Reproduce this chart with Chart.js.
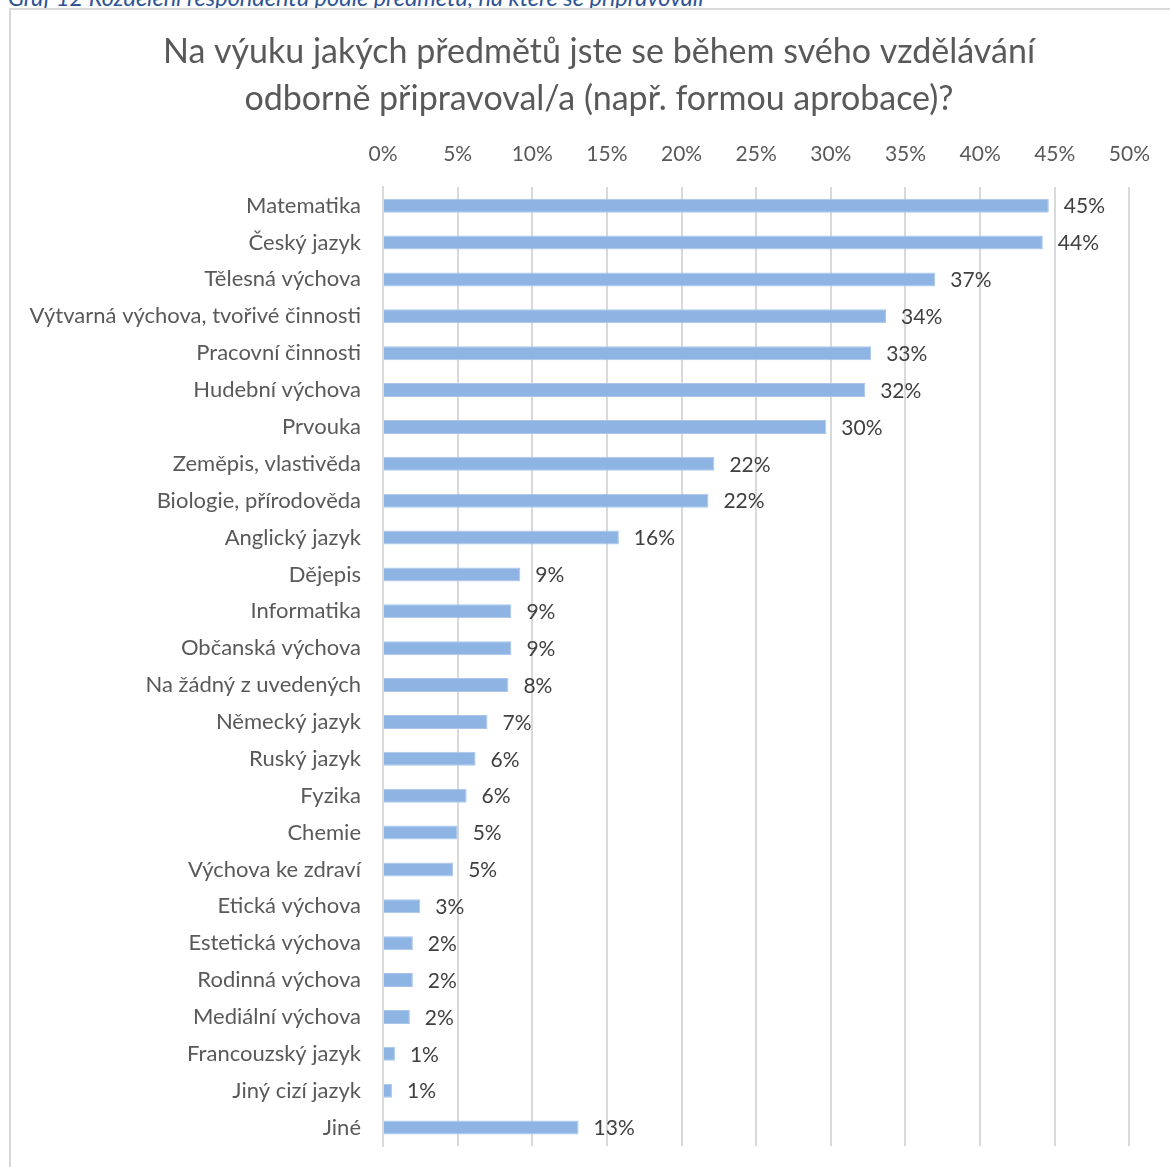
<!DOCTYPE html>
<html>
<head>
<meta charset="utf-8">
<script src="https://cdn.jsdelivr.net/npm/chart.js@4"></script>
<style>
  html, body { margin: 0; padding: 0; background: #fff; overflow: hidden; }
  body { width: 1170px; height: 1167px; position: relative; }
  #caption {
    position: absolute; left: 8px; top: -17px;
    font: italic 23.5px Lato, "Open Sans", sans-serif; color: #2F5496;
    white-space: nowrap;
  }
  #frame {
    position: absolute; left: 9px; top: 8px; width: 1200px; height: 1200px;
    border: 2px solid #D9D9D9; box-sizing: border-box;
  }
  #myChart { position: absolute; left: 0; top: 0; }
</style>
</head>
<body>
<div id="caption">Graf 12 Rozdělení respondentů podle předmětů, na které se připravovali</div>
<div id="frame"></div>
<canvas id="myChart" width="1170" height="1167"></canvas>
<script>
var titleLines = ['Na výuku jakých předmětů jste se během svého vzdělávání',
                  'odborně připravoval/a (např. formou aprobace)?'];

var subjects = ['Matematika', 'Český jazyk', 'Tělesná výchova',
  'Výtvarná výchova, tvořivé činnosti', 'Pracovní činnosti', 'Hudební výchova',
  'Prvouka', 'Zeměpis, vlastivěda', 'Biologie, přírodověda', 'Anglický jazyk',
  'Dějepis', 'Informatika', 'Občanská výchova', 'Na žádný z uvedených',
  'Německý jazyk', 'Ruský jazyk', 'Fyzika', 'Chemie', 'Výchova ke zdraví',
  'Etická výchova', 'Estetická výchova', 'Rodinná výchova', 'Mediální výchova',
  'Francouzský jazyk', 'Jiný cizí jazyk', 'Jiné'];

var shares = [44.6, 44.2, 37.0, 33.7, 32.7, 32.3, 29.7, 22.2, 21.8, 15.8,
  9.2, 8.6, 8.6, 8.4, 7.0, 6.2, 5.6, 5.0, 4.7, 2.5, 2.0, 2.0, 1.8, 0.8, 0.6, 13.1];

var axisMax = 50;
var axisStep = 5;

var font = 'Lato, "Open Sans", sans-serif';

// two-line title, centred over the whole frame rather than the plot
var frameTitle = {
  id: 'frameTitle',
  afterDraw: function(chart) {
    var ctx = chart.ctx;
    ctx.save();
    ctx.font = '34px ' + font;
    ctx.fillStyle = '#595959';
    ctx.textAlign = 'center';
    ctx.textBaseline = 'middle';
    titleLines.forEach(function(line, i) {
      ctx.fillText(line, 599, 52 + i * 47);
    });
    ctx.restore();
  }
};

// percent labels to the right of each bar
var barLabels = {
  id: 'barLabels',
  afterDatasetsDraw: function(chart) {
    var ctx = chart.ctx;
    var meta = chart.getDatasetMeta(0);
    ctx.save();
    ctx.font = '21px ' + font;
    ctx.fillStyle = '#404040';
    ctx.textAlign = 'left';
    ctx.textBaseline = 'middle';
    meta.data.forEach(function(bar, i) {
      ctx.fillText(Math.round(shares[i]) + '%', bar.x + 15, bar.y + 1);
    });
    ctx.restore();
  }
};

var graph = new Chart(document.getElementById('myChart'), {
  type: 'bar',
  data: {
    labels: subjects,
    datasets: [{
      data: shares,
      backgroundColor: '#8EB4E3',
      borderColor: '#A9C6EA',
      borderWidth: 1,
      barPercentage: 0.76,
      categoryPercentage: 0.5
    }]
  },
  options: {
    indexAxis: 'y',
    responsive: false,
    animation: false,
    layout: { padding: { left: 20, right: 40, top: 122, bottom: 21 } },
    plugins: {
      legend: { display: false },
      tooltip: { enabled: false },
      title: { display: false }
    },
    scales: {
      x: {
        position: 'top',
        min: 0,
        max: axisMax,
        grid: { color: '#D9D9D9', lineWidth: 2, drawTicks: false },
        border: { display: false },
        ticks: {
          stepSize: axisStep,
          color: '#595959',
          padding: 20,
          font: { family: font, size: 21 },
          callback: function(v) { return v + '%'; }
        }
      },
      y: {
        afterFit: function(scale) {
          scale.width = 363;
          scale.paddingTop = 0;
          scale.paddingBottom = 0;
        },
        grid: { display: false, drawTicks: false },
        border: { color: '#D9D9D9', width: 2 },
        ticks: {
          color: '#595959',
          padding: 22,
          autoSkip: false,
          font: { family: font, size: 22 }
        }
      }
    }
  },
  plugins: [barLabels, frameTitle]
});
</script>
</body>
</html>
